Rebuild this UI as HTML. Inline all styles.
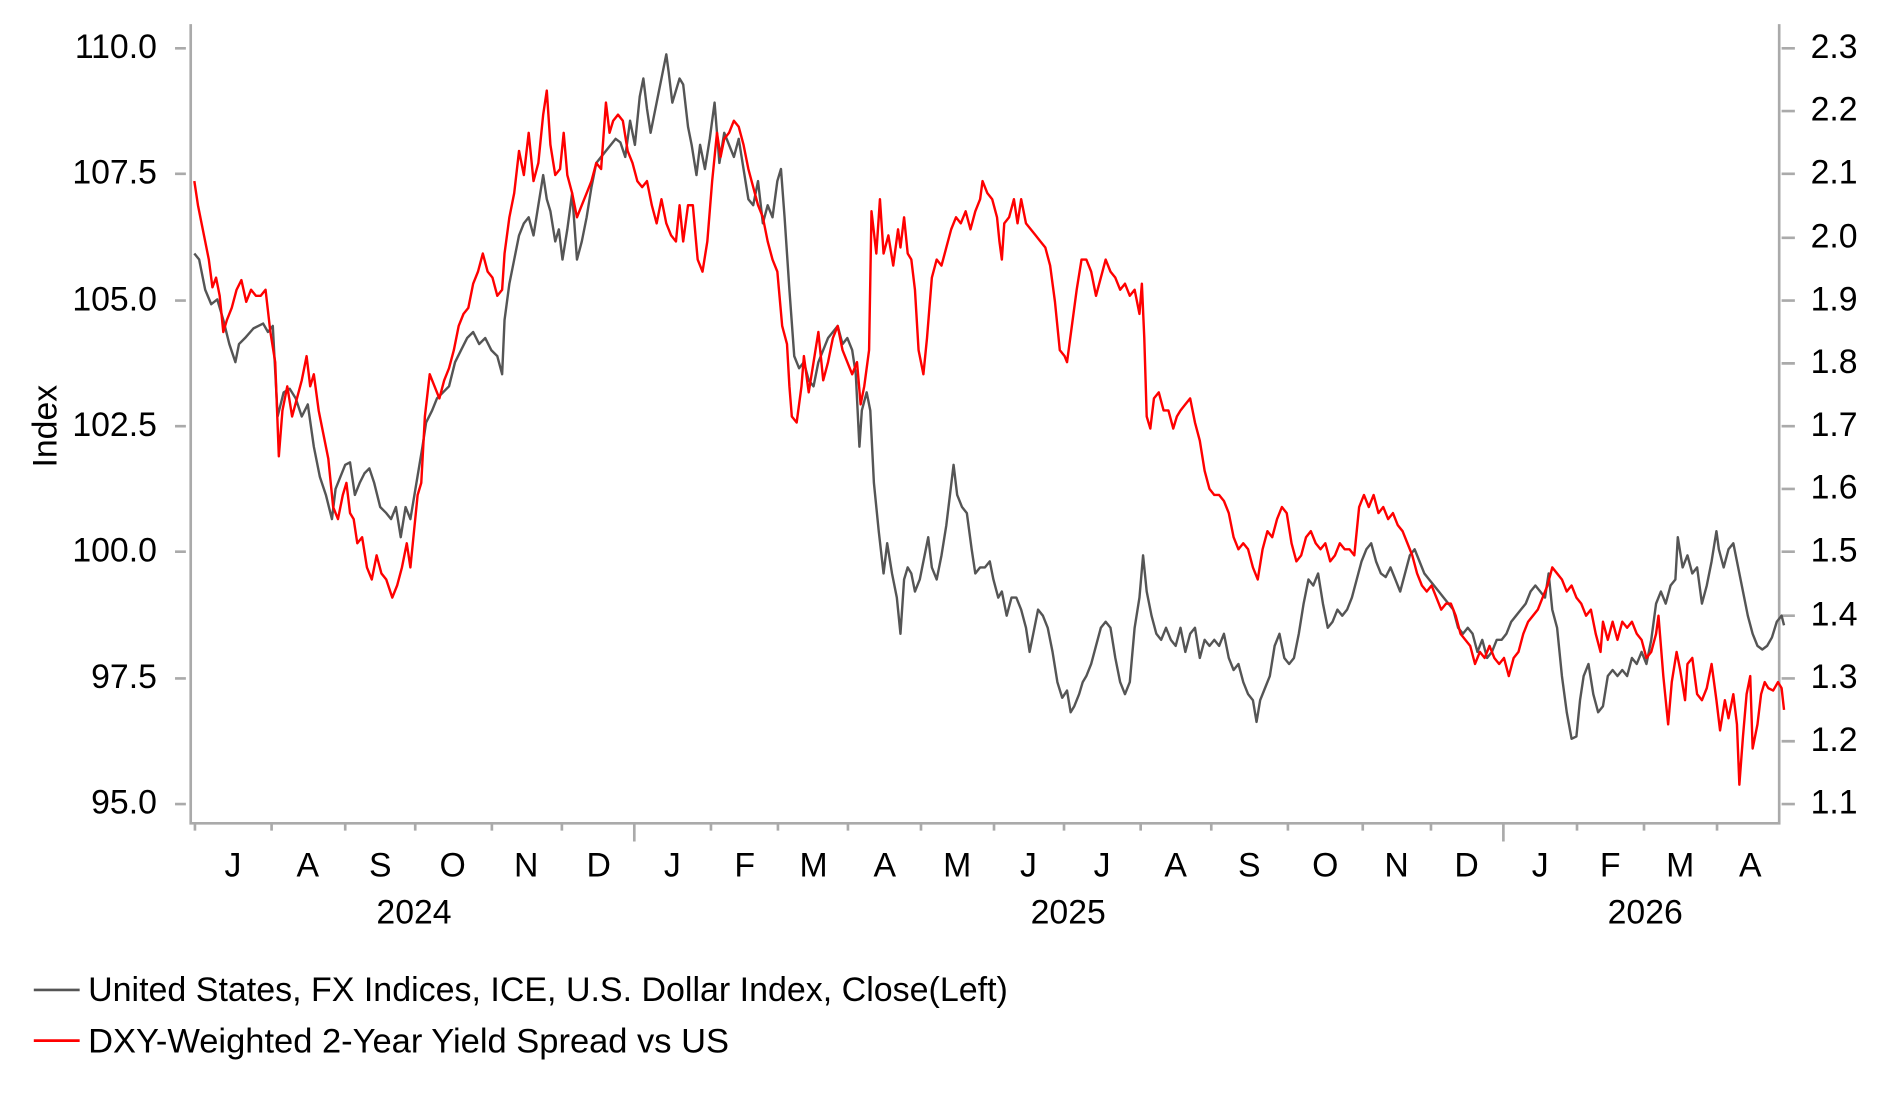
<!DOCTYPE html>
<html><head><meta charset="utf-8"><style>
html,body{margin:0;padding:0;background:#fff;}
svg{display:block;}
text{font-family:"Liberation Sans",Arial,sans-serif;fill:#000;}
</style></head><body>
<svg width="1883" height="1101" viewBox="0 0 1560 912" preserveAspectRatio="none" xmlns="http://www.w3.org/2000/svg">
<g stroke="#aaa" stroke-width="2.2" fill="none">
<path d="M158,20 V682 H1474 V20"/>
<path d="M145,40 h9 M145,144 h9 M145,249 h9 M145,353 h9 M145,457 h9 M145,562 h9 M145,666 h9"/>
<path d="M1476,40 h11 M1476,92 h11 M1476,144 h11 M1476,197 h11 M1476,249 h11 M1476,301 h11 M1476,353 h11 M1476,405 h11 M1476,457 h11 M1476,510 h11 M1476,562 h11 M1476,614 h11 M1476,666 h11"/>
<path d="M161.5,682 v6 M225,682 v6 M286,682 v6 M344,682 v6 M407.5,682 v6 M465.5,682 v6 M525.5,682 v15 M589,682 v6 M644.5,682 v6 M702.5,682 v6 M763,682 v6 M823.5,682 v6 M881.5,682 v6 M945,682 v6 M1003.5,682 v6 M1067,682 v6 M1129,682 v6 M1185.5,682 v6 M1245.5,682 v15 M1306.5,682 v6 M1362,682 v6 M1422.5,682 v6"/>
</g>
<g font-size="28" text-anchor="end">
<text x="130" y="48">110.0</text><text x="130" y="152">107.5</text><text x="130" y="257">105.0</text><text x="130" y="361">102.5</text><text x="130" y="465">100.0</text><text x="130" y="570">97.5</text><text x="130" y="674">95.0</text>
</g>
<g font-size="28" text-anchor="start">
<text x="1500" y="48">2.3</text><text x="1500" y="100">2.2</text><text x="1500" y="152">2.1</text><text x="1500" y="205">2.0</text><text x="1500" y="257">1.9</text><text x="1500" y="309">1.8</text><text x="1500" y="361">1.7</text><text x="1500" y="413">1.6</text><text x="1500" y="465">1.5</text><text x="1500" y="518">1.4</text><text x="1500" y="570">1.3</text><text x="1500" y="622">1.2</text><text x="1500" y="674">1.1</text>
</g>
<text x="0" y="0" font-size="28" text-anchor="middle" transform="translate(47,353) rotate(-90)">Index</text>
<g font-size="28" text-anchor="middle">
<text x="193" y="726">J</text><text x="255" y="726">A</text><text x="315" y="726">S</text><text x="375" y="726">O</text><text x="436" y="726">N</text><text x="496" y="726">D</text><text x="557" y="726">J</text><text x="617" y="726">F</text><text x="674" y="726">M</text><text x="733" y="726">A</text><text x="793" y="726">M</text><text x="852" y="726">J</text><text x="913" y="726">J</text><text x="974" y="726">A</text><text x="1035" y="726">S</text><text x="1098" y="726">O</text><text x="1157" y="726">N</text><text x="1215" y="726">D</text><text x="1276" y="726">J</text><text x="1334" y="726">F</text><text x="1392" y="726">M</text><text x="1450" y="726">A</text>
<text x="343" y="765">2024</text><text x="885" y="765">2025</text><text x="1363" y="765">2026</text>
</g>
<polyline fill="none" stroke="#555" stroke-width="2" stroke-linejoin="round" points="161,210 165,215 170,240 175,252 180,248 185,265 190,285 195,300 198,285 203,280 210,272 218,268 222,275 226,270 230,345 235,325 240,322 245,330 250,345 255,335 260,370 265,395 270,410 275,430 278,405 282,395 286,385 290,383 294,410 298,400 302,392 306,388 310,400 315,420 320,425 324,430 328,420 332,445 336,420 340,430 345,400 350,370 353,350 358,340 362,330 367,325 372,320 377,300 382,290 387,280 392,275 397,285 402,280 407,290 412,295 416,310 418,265 422,235 426,215 430,195 434,185 438,180 442,195 446,170 450,145 453,165 456,175 460,200 463,190 466,215 470,190 474,160 478,215 482,200 486,180 490,155 494,135 498,130 502,125 506,120 510,115 514,118 518,130 522,100 526,120 530,80 533,65 536,90 539,110 542,95 546,75 549,60 552,45 554,60 557,85 560,75 563,65 566,70 570,105 573,120 577,145 580,120 584,140 588,115 592,85 596,135 600,110 604,120 608,130 612,115 616,140 620,165 624,170 628,150 632,185 636,170 640,180 644,150 647,140 650,180 654,240 658,295 662,305 666,300 670,315 674,320 678,300 682,290 686,280 690,275 694,270 698,285 702,280 706,290 709,310 712,370 714,340 718,325 721,340 724,400 728,440 732,475 735,450 739,475 743,495 746,525 749,480 752,470 755,475 758,490 762,480 766,460 769,445 772,470 776,480 780,460 784,435 787,410 790,385 793,410 797,420 801,425 805,455 808,475 812,470 816,470 820,465 823,480 827,495 830,490 834,510 838,495 842,495 846,505 850,520 853,540 856,525 860,505 864,510 868,520 872,540 876,565 880,578 884,572 887,590 890,585 894,575 897,565 900,560 904,550 908,535 912,520 916,515 920,520 924,545 928,565 932,575 936,565 940,520 944,495 947,460 950,490 954,510 958,525 962,530 966,520 970,530 974,535 978,520 982,540 986,525 990,520 994,545 998,530 1002,535 1006,530 1010,535 1014,525 1018,545 1022,555 1026,550 1030,565 1034,575 1038,580 1041,598 1044,580 1048,570 1052,560 1056,535 1060,525 1064,545 1068,550 1072,545 1076,525 1080,500 1084,480 1088,485 1092,475 1096,500 1100,520 1104,515 1108,505 1112,510 1116,505 1120,495 1124,480 1128,465 1132,455 1136,450 1140,465 1144,475 1148,478 1152,470 1156,480 1160,490 1164,475 1168,460 1172,455 1176,465 1180,475 1184,480 1188,485 1192,490 1196,495 1200,500 1204,505 1208,520 1212,525 1216,520 1220,525 1224,540 1228,530 1232,545 1236,540 1240,530 1244,530 1248,525 1252,515 1256,510 1260,505 1264,500 1268,490 1272,485 1276,490 1280,495 1283,475 1286,505 1290,520 1294,560 1298,590 1302,612 1306,610 1309,580 1312,560 1316,550 1320,575 1324,590 1328,585 1332,560 1336,555 1340,560 1344,555 1348,560 1352,545 1356,550 1360,540 1364,550 1368,530 1372,500 1376,490 1380,500 1384,485 1388,480 1390,445 1394,470 1398,460 1402,475 1406,470 1410,500 1414,485 1418,465 1422,440 1424,455 1428,470 1432,455 1436,450 1440,470 1444,490 1448,510 1452,525 1456,535 1460,538 1464,535 1468,528 1472,515 1476,510 1478,518"/>
<polyline fill="none" stroke="#f00" stroke-width="2" stroke-linejoin="round" points="161,150 164,170 167,185 170,200 173,215 176,238 179,230 182,245 185,275 188,265 192,255 196,240 200,232 204,250 208,240 212,245 216,245 220,240 224,275 228,300 231,378 234,340 238,320 242,345 246,330 250,315 254,295 257,320 260,310 264,340 268,360 272,380 276,420 280,430 284,410 287,400 290,425 293,430 296,450 300,445 304,470 308,480 312,460 316,475 320,480 325,495 329,485 333,470 337,450 340,470 343,440 346,410 349,400 352,345 356,310 360,320 364,330 368,315 372,305 376,290 380,270 384,260 388,255 392,235 396,225 400,210 404,225 408,230 412,245 416,240 418,210 422,180 426,160 430,125 434,145 438,110 442,150 446,135 450,95 453,75 456,120 460,145 464,140 467,110 470,145 474,160 478,180 482,170 486,160 490,150 494,135 498,140 502,85 505,110 508,100 512,95 516,100 520,125 524,135 528,150 532,155 536,150 540,170 544,185 548,165 552,185 556,195 560,200 563,170 566,200 570,170 574,170 578,215 582,225 586,200 590,150 594,110 597,130 600,115 604,110 608,100 612,105 616,120 620,140 624,155 628,170 632,180 636,200 640,215 644,225 648,270 652,285 654,320 656,345 660,350 662,335 664,320 666,295 670,325 674,300 678,275 682,315 686,300 690,280 694,270 698,290 702,300 706,310 710,300 713,335 716,320 720,290 722,175 726,210 729,165 732,210 736,195 740,220 744,190 746,205 749,180 752,210 755,215 758,240 761,290 765,310 768,280 772,230 776,215 780,220 784,205 788,190 792,180 796,185 800,175 804,190 808,175 812,165 814,150 818,160 822,165 826,180 828,200 830,215 832,185 836,180 840,165 843,185 846,165 850,185 854,190 858,195 862,200 866,205 870,220 874,250 878,290 882,295 884,300 888,270 892,240 896,215 900,215 904,225 908,245 912,230 916,215 920,225 924,230 928,240 932,235 936,245 940,240 944,260 946,235 948,280 950,345 953,355 956,330 960,325 964,340 968,340 972,355 975,345 978,340 982,335 986,330 990,350 994,365 998,390 1002,405 1006,410 1010,410 1014,415 1018,425 1022,445 1026,455 1030,450 1034,455 1038,470 1042,480 1046,455 1050,440 1054,445 1058,430 1062,420 1066,425 1070,450 1074,465 1078,460 1082,445 1086,440 1090,450 1094,455 1098,450 1102,465 1106,460 1110,450 1114,455 1118,455 1122,460 1126,420 1130,410 1134,420 1138,410 1142,425 1146,420 1150,430 1154,425 1158,435 1162,440 1166,450 1170,460 1174,475 1178,485 1182,490 1186,485 1190,495 1194,505 1198,500 1202,500 1206,510 1210,525 1214,530 1218,535 1222,550 1226,540 1230,545 1234,535 1238,545 1242,550 1246,545 1250,560 1254,545 1258,540 1262,525 1266,515 1270,510 1274,505 1278,495 1282,485 1286,470 1290,475 1294,480 1298,490 1302,485 1306,495 1310,500 1314,510 1318,505 1322,525 1326,540 1328,515 1332,530 1336,515 1340,530 1344,515 1348,520 1352,515 1356,525 1360,530 1364,545 1368,540 1372,525 1374,510 1378,560 1382,600 1385,565 1389,540 1392,555 1396,580 1398,550 1402,545 1406,575 1410,580 1414,570 1418,550 1422,580 1425,605 1429,580 1432,595 1436,575 1439,600 1441,650 1444,610 1447,575 1450,560 1452,620 1456,600 1459,575 1462,565 1465,570 1469,572 1473,565 1476,570 1478,588"/>
<line x1="28" y1="820" x2="66" y2="820" stroke="#555" stroke-width="2.2"/>
<line x1="28" y1="862" x2="66" y2="862" stroke="#f00" stroke-width="2.2"/>
<text x="73" y="829" font-size="28" textLength="762" lengthAdjust="spacingAndGlyphs">United States, FX Indices, ICE, U.S. Dollar Index, Close(Left)</text>
<text x="73" y="872" font-size="28" textLength="531" lengthAdjust="spacingAndGlyphs">DXY-Weighted 2-Year Yield Spread vs US</text>
</svg>
</body></html>
